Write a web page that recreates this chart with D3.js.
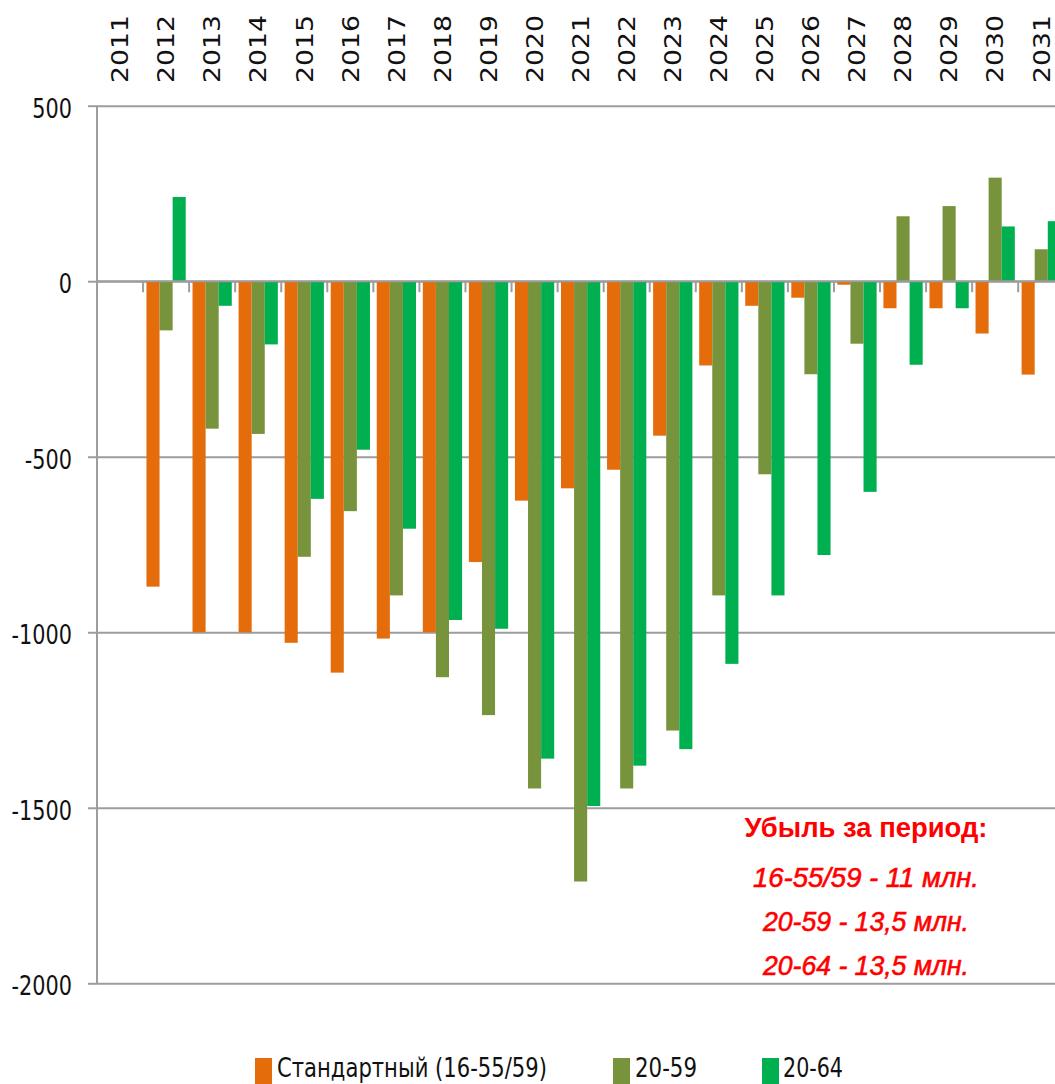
<!DOCTYPE html>
<html>
<head>
<meta charset="utf-8">
<script src="https://cdn.jsdelivr.net/npm/d3@7"></script>
<style>
  body { margin: 0; background: #fff; }
  svg { display: block; }
  .ylab { font-family: "DejaVu Sans", sans-serif; font-size: 26px; fill: #111; }
  .xlab { font-family: "DejaVu Sans", sans-serif; font-size: 23px; fill: #111; }
  .leg { font-family: "DejaVu Sans", sans-serif; font-size: 26px; fill: #111; }
  .note { font-family: "Liberation Sans", Arial, sans-serif; font-size: 28px; fill: #ff0000; }
</style>
</head>
<body>
<svg id="chart"></svg>
<script>
const years = ["2011","2012","2013","2014","2015","2016","2017","2018","2019","2020","2021",
  "2022","2023","2024","2025","2026","2027","2028","2029","2030","2031"];
const seriesNames = ["Стандартный (16-55/59)", "20-59", "20-64"];
const standard = [null, -870, -1000, -1000, -1030, -1115, -1018, -1000, -800, -625, -590,
  -537, -440, -240, -70, -47, -10, -77, -77, -149, -266];
const age2059 = [null, -140, -420, -435, -785, -655, -895, -1128, -1236, -1445, -1710,
  -1445, -1280, -895, -550, -265, -178, 185, 214, 295, 91];
const age2064 = [null, 240, -70, -180, -620, -480, -705, -965, -990, -1360, -1495,
  -1380, -1333, -1090, -895, -780, -600, -238, -77, 156, 171];
const yTicks = [500, 0, -500, -1000, -1500, -2000];
const noteLines = ["Убыль за период:", "16-55/59 - 11 млн.", "20-59 - 13,5 млн.", "20-64 - 13,5 млн."];

const colors = ["#E46C0A", "#77933C", "#00B050"];
const W = 1055, H = 1084;
const left = 97, step = 46.06;
const gridColor = "#9d9d9d";

const svg = d3.select("#chart").attr("width", W).attr("height", H);
svg.append("rect").attr("width", W).attr("height", H).attr("fill", "#fff");

const series = [standard, age2059, age2064];

const x0 = d3.scaleBand().domain(years).range([left, left + years.length * step]).padding(0);
const x1 = d3.scaleBand().domain(d3.range(series.length)).range([3.4, step - 3.4]).padding(0);
const y = d3.scaleLinear().domain([-2000, 500]).range([983.3, 105.7]);

// squeeze/stretch text to mimic the narrow Excel rendering
function fit(sel, k) {
  sel.each(function() {
    const w = this.getComputedTextLength();
    d3.select(this).attr("textLength", w * k).attr("lengthAdjust", "spacingAndGlyphs");
  });
}

// gridlines
const grid = svg.append("g")
  .attr("transform", `translate(${left},0)`)
  .call(d3.axisLeft(y).tickValues(yTicks).tickSize(-(W - left)).tickFormat(""));
grid.select(".domain").remove();
grid.selectAll("line").attr("stroke", gridColor).attr("stroke-width", 2);

// y axis with labels (plain hyphen for the minus sign, as in the original)
const yAxis = svg.append("g")
  .attr("transform", `translate(${left},0)`)
  .call(d3.axisLeft(y).tickValues(yTicks).tickSize(9).tickFormat(d => String(d)));
yAxis.select(".domain").attr("stroke", gridColor).attr("stroke-width", 2)
  .attr("d", `M0,${y(500)}V${y(-2000)}`);
yAxis.selectAll("line").attr("stroke", gridColor).attr("stroke-width", 2);
yAxis.attr("font-size", null).attr("font-family", null);
yAxis.selectAll("text").attr("class", "ylab").attr("fill", null)
  .attr("dy", "0.44em").attr("x", -25).call(fit, 0.8);

// bars
series.forEach((vals, s) => {
  svg.append("g").selectAll("rect")
    .data(years.map((yr, i) => ({ yr, v: vals[i] })).filter(d => d.v !== null))
    .join("rect")
    .attr("x", d => x0(d.yr) + x1(s))
    .attr("width", x1.bandwidth())
    .attr("y", d => y(Math.max(0, d.v)))
    .attr("height", d => Math.abs(y(d.v) - y(0)))
    .attr("fill", colors[s]);
});

// zero axis with boundary ticks
svg.append("line")
  .attr("x1", left).attr("x2", W)
  .attr("y1", y(0)).attr("y2", y(0))
  .attr("stroke", gridColor).attr("stroke-width", 2);
svg.append("g").selectAll("line")
  .data(years)
  .join("line")
  .attr("x1", d => x0(d)).attr("x2", d => x0(d))
  .attr("y1", y(0)).attr("y2", y(0) + 11)
  .attr("stroke", gridColor).attr("stroke-width", 2);

// year labels on top
const xTop = svg.append("g")
  .attr("transform", "translate(0,83)")
  .call(d3.axisTop(x0).tickSize(0));
xTop.select(".domain").remove();
xTop.attr("font-size", null).attr("font-family", null);
xTop.selectAll("text")
  .attr("class", "xlab").attr("fill", null)
  .attr("transform", "rotate(-90)")
  .attr("x", 0).attr("y", 0).attr("dy", "0.36em")
  .attr("text-anchor", "start")
  .call(fit, 1.16);

// legend
const legendPos = [{ sx: 255, tx: 277, w: 270 }, { sx: 613, tx: 635, w: 62 }, { sx: 762, tx: 783, w: 60 }];
const legend = svg.append("g");
seriesNames.forEach((name, i) => {
  legend.append("rect")
    .attr("x", legendPos[i].sx).attr("y", 1058)
    .attr("width", 17).attr("height", 26)
    .attr("fill", colors[i]);
  legend.append("text")
    .attr("class", "leg")
    .attr("x", legendPos[i].tx).attr("y", 1077)
    .attr("textLength", legendPos[i].w).attr("lengthAdjust", "spacingAndGlyphs")
    .text(name);
});

// annotation
const noteY = [837, 887, 931, 975];
const noteW = [243, 226, 206, 206];
svg.append("g").selectAll("text")
  .data(noteLines)
  .join("text")
  .attr("class", "note")
  .attr("x", 866)
  .attr("y", (d, i) => noteY[i])
  .attr("text-anchor", "middle")
  .attr("font-weight", (d, i) => i === 0 ? "bold" : "normal")
  .attr("font-style", (d, i) => i === 0 ? "normal" : "italic")
  .attr("stroke", (d, i) => i === 0 ? "none" : "#ff0000")
  .attr("stroke-width", 0.6)
  .attr("textLength", (d, i) => noteW[i])
  .attr("lengthAdjust", "spacingAndGlyphs")
  .text(d => d);
</script>
</body>
</html>
